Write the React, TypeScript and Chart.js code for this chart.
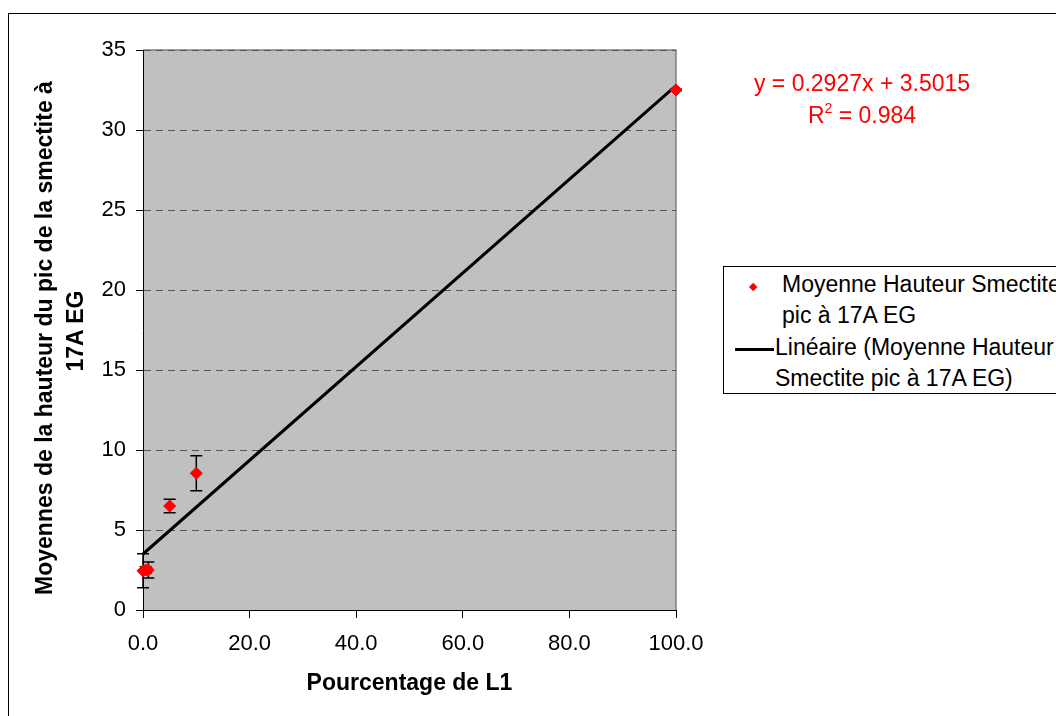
import React, { useEffect, useRef } from "react"
import { Chart, registerables } from "chart.js"

Chart.register(...registerables)

const FONT = '"Liberation Sans", Arial, sans-serif'

// pourcentage de L1 / moyennes de hauteur / demi-barres d'erreur
const pointX = [0, 0.5, 1, 5, 10, 100]
const pointY = [2.45, 2.5, 2.5, 6.5, 8.55, 32.5]
const pointErr = [1.06, 0.2, 0.5, 0.42, 1.09, 0.05]

// courbe de tendance linéaire (extrémités)
const trendX = [0, 100]
const trendY = [3.5, 32.77]

const xTicks = [0, 20, 40, 60, 80, 100]
const xTickLabels = ["0.0", "20.0", "40.0", "60.0", "80.0", "100.0"]
const yTicks = [0, 5, 10, 15, 20, 25, 30, 35]
const yTickLabels = ["0", "5", "10", "15", "20", "25", "30", "35"]

const seriesName = "Moyenne Hauteur Smectite pic à 17A EG"

// fond gris de la zone de tracé + bord haut/droite
const plotFrame = {
  id: "plotFrame",
  beforeDraw(chart: Chart) {
    const { ctx, chartArea } = chart
    const { left, top, right, bottom } = chartArea
    ctx.save()
    ctx.fillStyle = "#c0c0c0"
    ctx.fillRect(left, top, right - left, bottom - top)
    ctx.strokeStyle = "#808080"
    ctx.lineWidth = 1.5
    ctx.beginPath()
    ctx.moveTo(left, top)
    ctx.lineTo(right, top)
    ctx.lineTo(right, bottom)
    ctx.stroke()
    ctx.restore()
  },
}

// barres d'erreur verticales
const errorBars = {
  id: "errorBars",
  beforeDatasetsDraw(chart: Chart) {
    const { ctx } = chart
    const x = chart.scales.x
    const y = chart.scales.y
    ctx.save()
    ctx.strokeStyle = "#000"
    ctx.lineWidth = 1.5
    pointX.forEach((v, i) => {
      const px = x.getPixelForValue(v)
      const top = y.getPixelForValue(pointY[i] + pointErr[i])
      const bot = y.getPixelForValue(pointY[i] - pointErr[i])
      ctx.beginPath()
      ctx.moveTo(px, top)
      ctx.lineTo(px, bot)
      ctx.moveTo(px - 6, top)
      ctx.lineTo(px + 6, top)
      ctx.moveTo(px - 6, bot)
      ctx.lineTo(px + 6, bot)
      ctx.stroke()
    })
    ctx.restore()
  },
}

function SmectiteChart() {
  const canvasRef = useRef<HTMLCanvasElement>(null)
  const chartRef = useRef<Chart | null>(null)

  useEffect(() => {
    if (!canvasRef.current) return
    const ctx = canvasRef.current.getContext("2d")
    if (!ctx) return

    chartRef.current?.destroy()

    chartRef.current = new Chart(ctx, {
      type: "scatter",
      data: {
        datasets: [
          {
            label: seriesName,
            data: pointX.map((x, i) => ({ x, y: pointY[i] })),
            pointStyle: "rectRot",
            pointRadius: 6,
            backgroundColor: "#ff0000",
            borderColor: "#ff0000",
            borderWidth: 1,
            clip: false,
            order: 0,
          },
          {
            label: `Linéaire (${seriesName})`,
            data: trendX.map((x, i) => ({ x, y: trendY[i] })),
            showLine: true,
            borderColor: "#000",
            borderWidth: 3,
            pointRadius: 0,
            clip: false,
            order: 1,
          },
        ],
      },
      options: {
        animation: false,
        responsive: true,
        maintainAspectRatio: false,
        layout: { padding: { left: 0, top: 50, right: 380, bottom: 0 } },
        plugins: {
          legend: { display: false },
          tooltip: { enabled: false },
        },
        scales: {
          x: {
            type: "linear",
            min: 0,
            max: 100,
            afterBuildTicks: (scale) => {
              scale.ticks = xTicks.map((value) => ({ value }))
            },
            afterFit: (scale) => {
              scale.height = 106
            },
            ticks: {
              color: "#000",
              font: { family: FONT, size: 22 },
              padding: 13,
              maxRotation: 0,
              callback: (_v, i) => xTickLabels[i],
            },
            grid: {
              drawOnChartArea: false,
              tickLength: 8,
              tickColor: "#000",
              tickWidth: 1,
            },
            border: { color: "#000", width: 1 },
            title: {
              display: true,
              text: "Pourcentage de L1",
              color: "#000",
              font: { family: FONT, size: 23, weight: "bold" },
              padding: { top: 0, bottom: 19 },
            },
          },
          y: {
            type: "linear",
            min: 0,
            max: 35,
            afterBuildTicks: (scale) => {
              scale.ticks = yTicks.map((value) => ({ value }))
            },
            afterFit: (scale) => {
              scale.width = 143
            },
            ticks: {
              color: "#000",
              font: { family: FONT, size: 22 },
              padding: 10,
              callback: (_v, i) => yTickLabels[i],
            },
            grid: {
              color: (c) => (c.tick && c.tick.value === 0 ? "transparent" : "#555"),
              lineWidth: 1,
              tickLength: 7,
              tickColor: "#000",
              tickWidth: 1,
            },
            border: { color: "#000", width: 1, dash: [7, 5] },
          },
        },
      },
      plugins: [plotFrame, errorBars],
    })

    return () => {
      chartRef.current?.destroy()
      chartRef.current = null
    }
  }, [])

  return <canvas ref={canvasRef} />
}

// une ligne du titre vertical, centrée sur (cx, cy)
function VerticalLine({ cx, cy, text }: { cx: number; cy: number; text: string }) {
  return (
    <div
      style={{
        position: "absolute",
        left: cx - 300,
        top: cy - 16,
        width: 600,
        height: 32,
        transform: "rotate(-90deg)",
        textAlign: "center",
        fontSize: 23,
        fontWeight: "bold",
        lineHeight: "32px",
        whiteSpace: "nowrap",
      }}
    >
      {text}
    </div>
  )
}

export default function App() {
  return (
    <div
      style={{
        position: "absolute",
        left: 0,
        top: 0,
        width: 1056,
        height: 716,
        overflow: "hidden",
        background: "#fff",
        fontFamily: FONT,
        color: "#000",
      }}
    >
      <div
        style={{
          position: "absolute",
          left: 8,
          top: 13,
          width: 1200,
          height: 900,
          border: "1px solid #000",
          boxSizing: "border-box",
        }}
      />
      <div style={{ position: "absolute", left: 0, top: 0, width: 1056, height: 716 }}>
        <SmectiteChart />
      </div>

      {/* titre de l'axe Y */}
      <VerticalLine cx={43.5} cy={337.5} text="Moyennes de la hauteur du pic de la smectite à" />
      <VerticalLine cx={75} cy={330.5} text="17A EG" />

      {/* équation de la tendance */}
      <div
        style={{
          position: "absolute",
          left: 712,
          top: 66.5,
          width: 300,
          textAlign: "center",
          color: "#ff0000",
          fontSize: 23,
          lineHeight: "32.6px",
          whiteSpace: "nowrap",
        }}
      >
        y = 0.2927x + 3.5015
        <br />
        R
        <span style={{ fontSize: 14, position: "relative", top: -10 }}>2</span> = 0.984
      </div>

      {/* légende */}
      <div
        style={{
          position: "absolute",
          left: 723,
          top: 266,
          width: 400,
          height: 128,
          border: "1px solid #000",
          boxSizing: "border-box",
          background: "#fff",
        }}
      />
      <div
        style={{
          position: "absolute",
          left: 753 - 3.2,
          top: 287 - 3.2,
          width: 6.4,
          height: 6.4,
          background: "#ff0000",
          transform: "rotate(45deg)",
        }}
      />
      <div
        style={{
          position: "absolute",
          left: 782,
          top: 268.5,
          fontSize: 23,
          lineHeight: "31px",
          whiteSpace: "nowrap",
        }}
      >
        Moyenne Hauteur Smectite
        <br />
        pic à 17A EG
      </div>
      <div
        style={{
          position: "absolute",
          left: 735,
          top: 347.5,
          width: 39,
          height: 3,
          background: "#000",
        }}
      />
      <div
        style={{
          position: "absolute",
          left: 775,
          top: 331.5,
          fontSize: 23,
          lineHeight: "31px",
          whiteSpace: "nowrap",
        }}
      >
        Linéaire (Moyenne Hauteur
        <br />
        Smectite pic à 17A EG)
      </div>
    </div>
  )
}
